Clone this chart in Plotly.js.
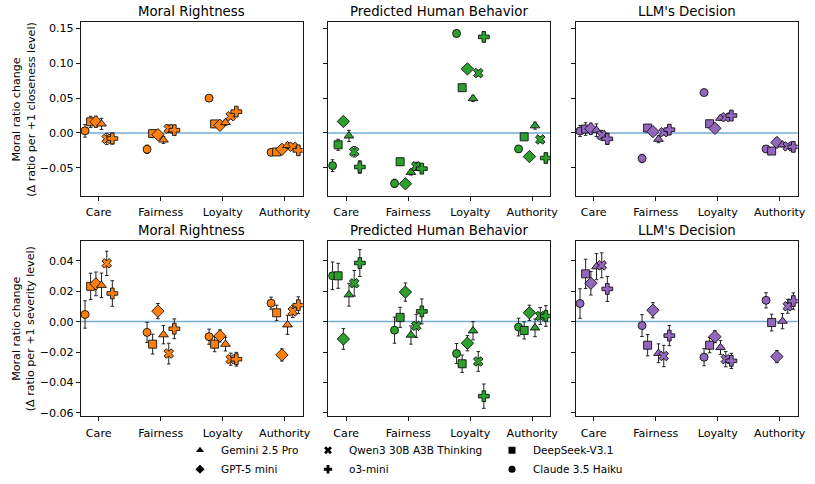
<!DOCTYPE html>
<html>
<head>
<meta charset="utf-8">
<script src="https://cdn.plot.ly/plotly-3.0.1.min.js"></script>
<style>html,body{margin:0;padding:0;background:#fff;}#chart{width:815px;height:484px;}</style>
</head>
<body>
<div id="chart"></div>
<script>
// ---------- DATA ----------
const categories = ['Care', 'Fairness', 'Loyalty', 'Authority'];
const models = ['Claude 3.5 Haiku', 'DeepSeek-V3.1', 'GPT-5 mini', 'Gemini 2.5 Pro', 'Qwen3 30B A3B Thinking', 'o3-mini'];
const panelTitles = ['Moral Rightness', 'Predicted Human Behavior', "LLM's Decision"];

// rows = models (order above), columns = categories
const closeMoral = [
  [0.003, -0.0235, 0.050, -0.0278],
  [0.016, -0.001, 0.013, -0.0273],
  [0.016, -0.0024, 0.011, -0.0235],
  [0.013, -0.010, 0.015, -0.018],
  [-0.0085, 0.006, 0.024, -0.0198],
  [-0.008, 0.004, 0.0306, -0.025]
];
const closeMoralErr = [
  [0.009, 0.006, 0.004, 0.004],
  [0.008, 0.005, 0.004, 0.004],
  [0.008, 0.005, 0.004, 0.004],
  [0.008, 0.005, 0.004, 0.004],
  [0.008, 0.0055, 0.004, 0.004],
  [0.008, 0.005, 0.004, 0.004]
];
const closeHuman = [
  [-0.047, -0.0725, 0.143, -0.023],
  [-0.017, -0.0414, 0.065, -0.0056],
  [0.0165, -0.073, 0.092, -0.034],
  [-0.0042, -0.0565, 0.0494, 0.0104],
  [-0.027, -0.048, 0.086, -0.0094],
  [-0.049, -0.0513, 0.138, -0.036]
];
const closeHumanErr = [
  [0.0085, 0.006, 0.005, 0.004],
  [0.008, 0.005, 0.004, 0.004],
  [0.005, 0.004, 0.004, 0.003],
  [0.008, 0.004, 0.004, 0.005],
  [0.0075, 0.006, 0.004, 0.004],
  [0.009, 0.006, 0.006, 0.006]
];
const closeLLM = [
  [0.0028, -0.0367, 0.058, -0.023],
  [0.0056, 0.007, 0.0132, -0.026],
  [0.006, 0.0019, 0.0066, -0.0137],
  [0.004, -0.009, 0.0212, -0.017],
  [-0.0033, 0.001, 0.0226, -0.0193],
  [-0.0085, 0.0047, 0.025, -0.020]
];
const closeLLMErr = [
  [0.008, 0.006, 0.004, 0.003],
  [0.009, 0.004, 0.003, 0.003],
  [0.008, 0.003, 0.003, 0.003],
  [0.009, 0.005, 0.003, 0.003],
  [0.007, 0.004, 0.003, 0.003],
  [0.008, 0.004, 0.003, 0.003]
];
const sevMoral = [
  [0.0047, -0.0071, -0.0099, 0.0121],
  [0.0232, -0.0148, -0.0148, 0.0058],
  [0.0248, 0.0069, -0.0094, -0.0219],
  [0.0239, -0.0086, -0.0148, -0.0021],
  [0.0383, -0.021, -0.0247, 0.0067],
  [0.0185, -0.0047, -0.0247, 0.0108]
];
const sevMoralErr = [
  [0.009, 0.0066, 0.005, 0.004],
  [0.0086, 0.0065, 0.005, 0.005],
  [0.0078, 0.005, 0.004, 0.004],
  [0.008, 0.006, 0.0045, 0.0063],
  [0.008, 0.0068, 0.004, 0.004],
  [0.0084, 0.0065, 0.0045, 0.0055]
];
const sevHuman = [
  [0.0301, -0.0056, -0.021, -0.0036],
  [0.0301, 0.0028, -0.0277, -0.0058],
  [-0.0114, 0.0194, -0.0142, 0.0058],
  [0.0177, -0.0088, -0.006, -0.0041],
  [0.0252, -0.0028, -0.0262, 0.0037],
  [0.0385, 0.0067, -0.049, 0.0037]
];
const sevHumanErr = [
  [0.0091, 0.0086, 0.0066, 0.0058],
  [0.0082, 0.0066, 0.0057, 0.0056],
  [0.0068, 0.006, 0.005, 0.005],
  [0.0075, 0.006, 0.006, 0.0058],
  [0.0084, 0.0076, 0.0065, 0.0056],
  [0.0088, 0.0082, 0.008, 0.0068]
];
const sevLLM = [
  [0.0119, -0.0026, -0.0234, 0.014],
  [0.0314, -0.0155, -0.0155, -0.0006],
  [0.0252, 0.0075, -0.0099, -0.023],
  [0.0361, -0.0208, -0.017, 0.0003],
  [0.037, -0.0226, -0.0247, 0.0101],
  [0.0215, -0.0092, -0.0258, 0.0135]
];
const sevLLMErr = [
  [0.0097, 0.0072, 0.0056, 0.005],
  [0.0096, 0.007, 0.005, 0.0055],
  [0.0077, 0.005, 0.004, 0.004],
  [0.0086, 0.0062, 0.0045, 0.005],
  [0.0082, 0.007, 0.005, 0.0046],
  [0.0082, 0.0066, 0.005, 0.0054]
];

// ---------- STYLE ----------
const FONT = 'DejaVu Sans, Liberation Sans, sans-serif';
const TICK = 11.1, TITLE = 13.3, LEG = 10.5;
const symbols = ['circle', 'square', 'diamond', 'triangle-up', 'x', 'cross'];
const symSizes = [8, 8, 9.5, 8.5, 8.5, 9];
const offsets = [-0.22, -0.13, -0.045, 0.045, 0.13, 0.22];
const panelColors = ['#ff7f0e', '#2ca02c', '#9467bd'];
const panels = [
  {vals: closeMoral, errs: closeMoralErr, ax: 1},
  {vals: closeHuman, errs: closeHumanErr, ax: 2},
  {vals: closeLLM, errs: closeLLMErr, ax: 3},
  {vals: sevMoral, errs: sevMoralErr, ax: 4},
  {vals: sevHuman, errs: sevHumanErr, ax: 5},
  {vals: sevLLM, errs: sevLLMErr, ax: 6}
];

const traces = [];
panels.forEach((p, pi) => {
  const color = panelColors[pi % 3];
  models.forEach((m, mi) => {
    traces.push({
      type: 'scatter', mode: 'markers', showlegend: false,
      name: m,
      x: categories.map((c, ci) => ci + offsets[mi]),
      y: p.vals[mi],
      error_y: {type: 'data', array: p.errs[mi], visible: true, color: '#222', thickness: 1, width: 1.8},
      marker: {symbol: symbols[mi], size: symSizes[mi], color: color, line: {color: '#111', width: 0.9}},
      xaxis: 'x' + (p.ax === 1 ? '' : p.ax), yaxis: 'y' + (p.ax === 1 ? '' : p.ax)
    });
  });
});

// legend entries (black markers), three columns of two
const legendCols = [[3, 2], [4, 5], [1, 0]];
legendCols.forEach((col, li) => {
  col.forEach(mi => {
    traces.push({
      type: 'scatter', mode: 'markers', name: models[mi], x: [null], y: [null],
      marker: {symbol: symbols[mi], size: 7, color: '#000', line: {width: 0}},
      legend: li === 0 ? 'legend' : 'legend' + (li + 1), showlegend: true,
      xaxis: 'x', yaxis: 'y'
    });
  });
});

const W = 815, H = 484;
const xDom = [[80.7, 302.7], [328.2, 550.2], [575.7, 797.7]];
const yDom = [[22.7, 200], [245.7, 424.3]];
const fx = a => [a[0] / W, a[1] / W];
const fy = a => [(H - a[1]) / H, (H - a[0]) / H];

const layout = {
  width: W, height: H,
  margin: {l: 0, r: 0, t: 0, b: 0},
  paper_bgcolor: '#fff', plot_bgcolor: '#fff',
  font: {family: FONT, size: TICK, color: '#000'},
  shapes: [], annotations: []
};

const yRanges = [[-0.091, 0.159], [-0.0623, 0.0529]];
for (let i = 1; i <= 6; i++) {
  const row = i <= 3 ? 0 : 1, colI = (i - 1) % 3;
  const xa = {
    domain: fx(xDom[colI]), range: [-0.29, 3.29],
    tickvals: [0, 1, 2, 3], ticktext: categories,
    ticks: 'outside', ticklen: 3.9, tickwidth: 0.9, tickcolor: '#000',
    ticklabelstandoff: 2,
    showline: true, mirror: true, linecolor: '#000', linewidth: 0.9,
    showgrid: false, zeroline: false, fixedrange: true,
    tickfont: {family: FONT, size: TICK, color: '#000'},
    anchor: 'y' + (i === 1 ? '' : i)
  };
  const ya = {
    domain: fy(yDom[row]), range: yRanges[row],
    ticks: 'outside', ticklen: 3.9, tickwidth: 0.9, tickcolor: '#000',
    showline: true, mirror: true, linecolor: '#000', linewidth: 0.9,
    showgrid: false, zeroline: false, fixedrange: true,
    tickformat: '.2f',
    tickfont: {family: FONT, size: TICK, color: '#000'},
    showticklabels: colI === 0,
    anchor: 'x' + (i === 1 ? '' : i)
  };
  if (row === 0) { ya.tickvals = [-0.05, 0, 0.05, 0.1, 0.15]; }
  else { ya.tickvals = [-0.06, -0.04, -0.02, 0, 0.02, 0.04]; }
  layout['xaxis' + (i === 1 ? '' : i)] = xa;
  layout['yaxis' + (i === 1 ? '' : i)] = ya;

  layout.shapes.push({
    type: 'line', layer: 'below',
    xref: 'x' + (i === 1 ? '' : i) + ' domain', x0: 0, x1: 1,
    yref: 'y' + (i === 1 ? '' : i), y0: 0, y1: 0,
    line: {color: '#74acd8', width: 1.5}
  });

  layout.annotations.push({
    text: panelTitles[colI], showarrow: false,
    xref: 'paper', yref: 'paper',
    x: (xDom[colI][0] + xDom[colI][1]) / 2 / W, xanchor: 'center',
    y: (H - yDom[row][0]) / H, yanchor: 'bottom', yshift: 1,
    font: {family: FONT, size: TITLE, color: '#000'}
  });
}

const yLabels = ['Moral ratio change<br>(Δ ratio per +1 closeness level)', 'Moral ratio change<br>(Δ ratio per +1 severity level)'];
yLabels.forEach((t, r) => {
  layout.annotations.push({
    text: t, showarrow: false, textangle: -90,
    xref: 'paper', yref: 'paper',
    x: 23.5 / W, xanchor: 'center',
    y: (H - (yDom[r][0] + yDom[r][1]) / 2) / H, yanchor: 'middle',
    font: {family: FONT, size: TICK, color: '#000'}
  });
});

const legBase = {
  orientation: 'v', xanchor: 'left', yanchor: 'top', y: (H - 444) / H,
  bgcolor: 'rgba(0,0,0,0)', borderwidth: 0, tracegroupgap: 0, itemwidth: 32,
  font: {family: FONT, size: LEG, color: '#000'}, itemclick: false, itemdoubleclick: false
};
layout.legend = Object.assign({}, legBase, {x: 179 / W});
layout.legend2 = Object.assign({}, legBase, {x: 307 / W});
layout.legend3 = Object.assign({}, legBase, {x: 491 / W});

Plotly.newPlot('chart', traces, layout, {displayModeBar: false, staticPlot: true});
</script>
</body>
</html>
